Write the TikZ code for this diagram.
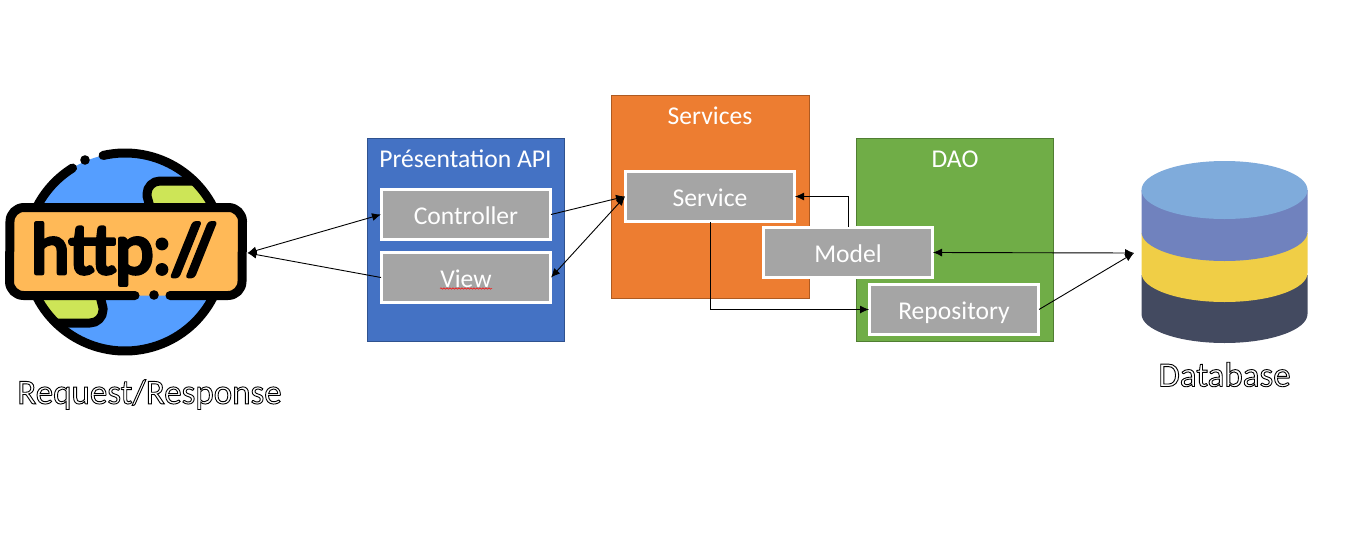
\documentclass[tikz,border=0pt]{standalone}
\usepackage{fontspec}
\setmainfont{Carlito}
\newfontfamily\iconfont{Lato}
\usetikzlibrary{arrows.meta,decorations.pathmorphing}
\newcommand{\outlinedtext}[1]{\special{pdf:code 2 Tr 0.9 w 1 1 1 rg 0 0 0 RG}#1\special{pdf:code 0 Tr 0 w 0 0 0 rg 0 0 0 RG}}
\newcommand{\icontext}[1]{\special{pdf:code 2 Tr 4.2 w 1 j 1 J 0 0 0 rg 0 0 0 RG}#1\special{pdf:code 0 Tr 1 w 0 j 0 J}}
\definecolor{panelblue}{HTML}{4472C4}
\definecolor{panelblueb}{HTML}{2F528F}
\definecolor{panelorange}{HTML}{ED7D31}
\definecolor{panelorangeb}{HTML}{AE5A21}
\definecolor{panelgreen}{HTML}{70AD47}
\definecolor{panelgreenb}{HTML}{507E32}
\definecolor{boxgrey}{HTML}{A5A5A5}
\definecolor{globeblue}{HTML}{559EFF}
\definecolor{globegreen}{HTML}{CDE557}
\definecolor{bannerorange}{HTML}{FFB957}
\definecolor{dbtop}{HTML}{7FABDB}
\definecolor{dbband}{HTML}{7082BE}
\definecolor{dbyellow}{HTML}{F0CE46}
\definecolor{dbdark}{HTML}{434A60}
\tikzset{
  panel/.style={draw=#1,line width=1pt,inner sep=0pt,outer sep=0pt,minimum width=197.5pt,minimum height=203pt},
  inner box/.style={draw=white,line width=2.2pt,fill=boxgrey,text=white,inner sep=0pt,outer sep=0.5pt,minimum width=169pt,minimum height=50pt,text height=22pt,text depth=3pt,font=\fontsize{25.6}{30}\selectfont},
  title/.style={text=white,inner sep=0pt,font=\fontsize{25.6}{30}\selectfont},
  caption/.style={inner sep=0pt,font=\fontsize{35}{40}\selectfont},
  link/.style={line width=0.9pt,black},
  tip/.style={-{Latex[length=9pt,width=8pt]}},
  tips/.style={{Latex[length=9pt,width=8pt]}-{Latex[length=9pt,width=8pt]}},
  ink/.style={line width=9pt,black,line cap=round,line join=round},
}
\begin{document}
\begin{tikzpicture}[x=1pt,y=-1pt]
\useasboundingbox (0,0) rectangle (1347,538);
% globe icon
\fill[globeblue] (125,252) circle (99);
\begin{scope}
  \clip (125,252) circle (99);
  \fill[globegreen] (230,181) -- (160,181) arc (270:180:13) -- (147,210) -- (230,210) -- cycle;
  \fill[globegreen] (20,323) -- (90,323) arc (90:0:13) -- (103,290) -- (20,290) -- cycle;
  \draw[ink] (195,181) -- (160,181) arc (270:180:13) -- (147,196) -- (150,207);
  \draw[ink] (50,323) -- (90,323) arc (90:0:13) -- (103,308) -- (100,296);
\end{scope}
\draw[ink] (125,252) ++(257.2:99) arc (257.2:598:99);
\fill[black] (85,160) circle (4.8);
\fill[bannerorange,rounded corners=14pt] (9.5,207.5) rectangle (242.5,295.5);
\draw[ink] (170,295.5) -- (228,295.5) arc (90:0:14) -- (242.5,221.5) arc (0:-90:14) -- (24,207.5) arc (-90:-180:14) -- (9.5,281.5) arc (180:90:14) -- (135,295.5);
\fill[black] (154,295) circle (4.8);
\node[inner sep=0pt,font=\iconfont\fontsize{68}{76}\selectfont] (httptext) at (124,254) {\icontext{http://}};
\coordinate (web) at (247.5,253);
% panels
\node[panel=panelblueb,fill=panelblue] (pres) at (466,240) {};
\node[panel=panelorangeb,fill=panelorange] (serv) at (710.5,197) {};
\node[panel=panelgreenb,fill=panelgreen] (dao) at (955,240) {};
\node[title] (prestitle) at (465.5,159) {Présentation API};
\node[title] (servtitle) at (710,116) {Services};
\node[title] (daotitle) at (955,159) {DAO};
% boxes
\node[inner box] (controller) at (466,214.5) {Controller};
\node[inner box] (view) at (466,277.5) {View};
\node[inner box] (service) at (710,196.5) {Service};
\node[inner box] (model) at (848,252.5) {Model};
\node[inner box] (repository) at (954,309.5) {Repository};
\draw[red,line width=0.5pt,decorate,decoration={snake,amplitude=0.7pt,segment length=3pt}] (440,288.5) -- (492,288.5);
% database
\fill[dbdark] (1141.5,275) -- (1141.5,314) arc (180:0:83 and 29) -- (1307.5,275) -- cycle;
\fill[dbyellow] (1141.5,233) -- (1141.5,273) arc (180:0:83 and 29) -- (1307.5,233) -- cycle;
\fill[dbband] (1141.5,190) -- (1141.5,232) arc (180:0:83 and 29) -- (1307.5,190) -- cycle;
\fill[dbtop] (1224.5,190) ellipse (83 and 29);
\coordinate (db) at (1134,253);
% captions
\node[caption] (reqcap) at (149.5,394.5) {\outlinedtext{Request/Response}};
\node[caption] (dbcap) at (1224.5,374.5) {\outlinedtext{Database}};
% connectors
\draw[link,tips] (web) -- (controller.west);
\draw[link,tip] (view.west) -- (web);
\draw[link,tip] (controller.east) -- (service.west);
\draw[link,tips] (view.east) -- (service.west);
\draw[link,tip] (model.north) |- (service.east);
\draw[link,tip] (service.south) |- (repository.west);
\draw[link,tips] (model.east) -- (db);
\draw[link,tip] (repository.east) -- (db);
\end{tikzpicture}
\end{document}
